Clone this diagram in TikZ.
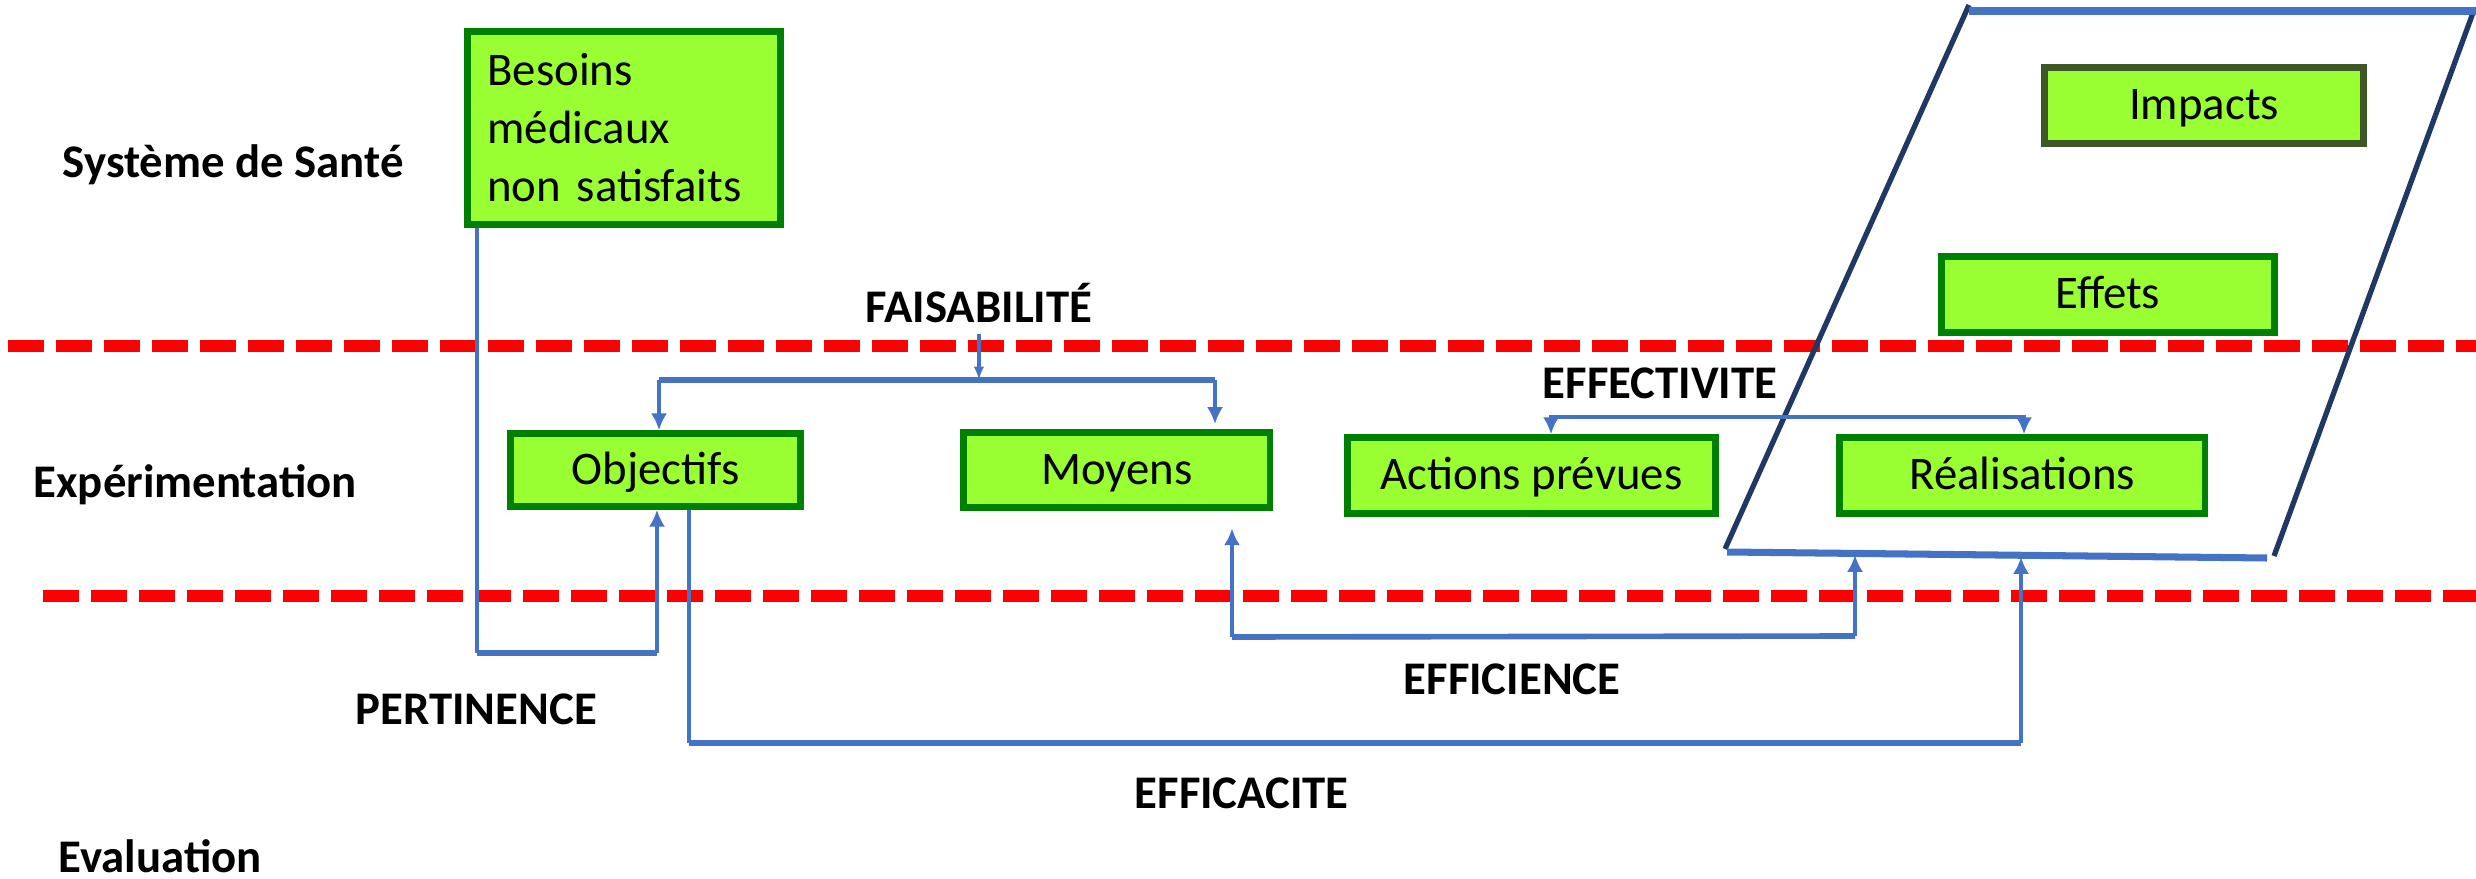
\documentclass[tikz,border=0pt]{standalone}
\usepackage{fontspec}
\setmainfont{Carlito}
\usetikzlibrary{positioning}
\usetikzlibrary{arrows.meta}

\definecolor{boxgreen}{RGB}{153,255,51}
\definecolor{edgegreen}{RGB}{0,128,0}
\definecolor{edgeolive}{RGB}{61,87,38}
\definecolor{linkblue}{RGB}{68,114,196}
\definecolor{framenavy}{RGB}{31,56,100}

\begin{document}
\begin{tikzpicture}[x=0.01cm,y=-0.01cm,
    font=\fontsize{13.3}{16.5}\selectfont,
    greenbox/.style={draw=edgegreen,fill=boxgreen,line width=1.85pt,minimum height=0.76cm},
    onebox/.style={greenbox,text height=10pt,text depth=2pt},
    crit/.style={font=\fontsize{13.3}{16.5}\selectfont\bfseries,inner sep=0pt,anchor=base west},
    link/.style={draw=linkblue,line width=0.9pt},
    arr/.style={link,-{Latex[length=4.8pt,width=4.6pt]}},
    thickbar/.style={draw=linkblue,line width=1.6pt},
    divider/.style={draw=red,line width=3.4pt,dash pattern=on 10.24pt off 3.41pt}]
    \useasboundingbox (0,0) rectangle (2476,879);

    % levels
    \draw[divider] (8,346) -- (2476,346);
    \draw[divider] (43,596) -- (2476,596);

    \node[crit] (sante) at (62,178) {Système de Santé};
    \node[crit] (experim) at (33,497) {Expérimentation};
    \node[crit] (evalu) at (58,872) {Evaluation};

    % boxes
    \node[greenbox,minimum width=3.13cm,minimum height=1.93cm,text width=2.73cm,inner xsep=0.2cm,align=left] (besoins) at (624,128) {Besoins\\médicaux\\non satisfaits};
    \node[onebox,minimum width=2.9cm,minimum height=0.73cm] (objectifs) at (655.5,470) {Objectifs};
    \node[onebox,minimum width=3.06cm,minimum height=0.75cm,right=1.565cm of objectifs] (moyens) {Moyens};
    \node[onebox,minimum width=3.68cm] (actions) at (1531.5,475.5) {Actions prévues};
    \node[onebox,minimum width=3.65cm,right=1.175cm of actions] (realis) {Réalisations};
    \node[onebox,minimum width=3.33cm] (effets) at (2108,294.5) {Effets};
    \node[onebox,draw=edgeolive,minimum width=3.19cm] (impacts) at (2204,105.5) {Impacts};

    % results frame
    \draw[draw=framenavy,line width=1.5pt] (1969,5) -- (1725,549);
    \draw[draw=framenavy,line width=1.5pt] (2474,10) -- (2274,556);
    \draw[thickbar,line width=2pt] (1969,11) -- (2476,11);
    \draw[thickbar,line width=2pt] (1727,552) -- (2267,558);

    % criteria
    \node[crit] (faisab) at (865,322) {FAISABILITÉ};
    \node[crit] (effect) at (1542,398) {EFFECTIVITE};
    \node[crit] (pertin) at (355,724) {PERTINENCE};
    \node[crit] (efficience) at (1403,694) {EFFICIENCE};
    \node[crit] (efficacite) at (1134,808) {EFFICACITE};

    \coordinate (fl) at (659,380);
    \coordinate (fr) at (1215,380);
    \draw[thickbar] (fl) -- (fr);
    \draw[link,-{Latex[length=3.8pt,width=3pt]},shorten <=3pt] (faisab.south) -- (faisab.south |- fl);
    \draw[arr] (fl) -- (objectifs.north -| fl);
    \draw[arr,shorten >=1.5pt] (fr) -- (moyens.north -| fr);

    \coordinate (el) at (1551,417);
    \coordinate (er) at (2024,417);
    \draw[link,line width=1.3pt,{Latex[length=4.8pt,width=4.6pt]}-{Latex[length=4.8pt,width=4.6pt]}] (actions.north -| el) |- (er) -- (realis.north -| er);

    \coordinate (pa) at (477,653);
    \coordinate (pb) at (657,653);
    \draw[link] (besoins.south -| pa) -- (pa);
    \draw[thickbar] (pa) -- (pb);
    \draw[arr] (pb) -- (objectifs.south -| pb);

    \coordinate (ca) at (689,743);
    \coordinate (cb) at (2021,743);
    \coordinate (ct) at (2021,557);
    \draw[link] (objectifs.south -| ca) -- (ca);
    \draw[thickbar] (ca) -- (cb);
    \draw[arr] (cb) -- (ct);

    \coordinate (na) at (1232,637);
    \coordinate (nb) at (1855,636);
    \coordinate (nt) at (1855,555);
    \draw[arr,shorten >=5pt] (na) -- (moyens.south -| na);
    \draw[thickbar] (na) -- (nb);
    \draw[arr] (nb) -- (nt);
\end{tikzpicture}
\end{document}
